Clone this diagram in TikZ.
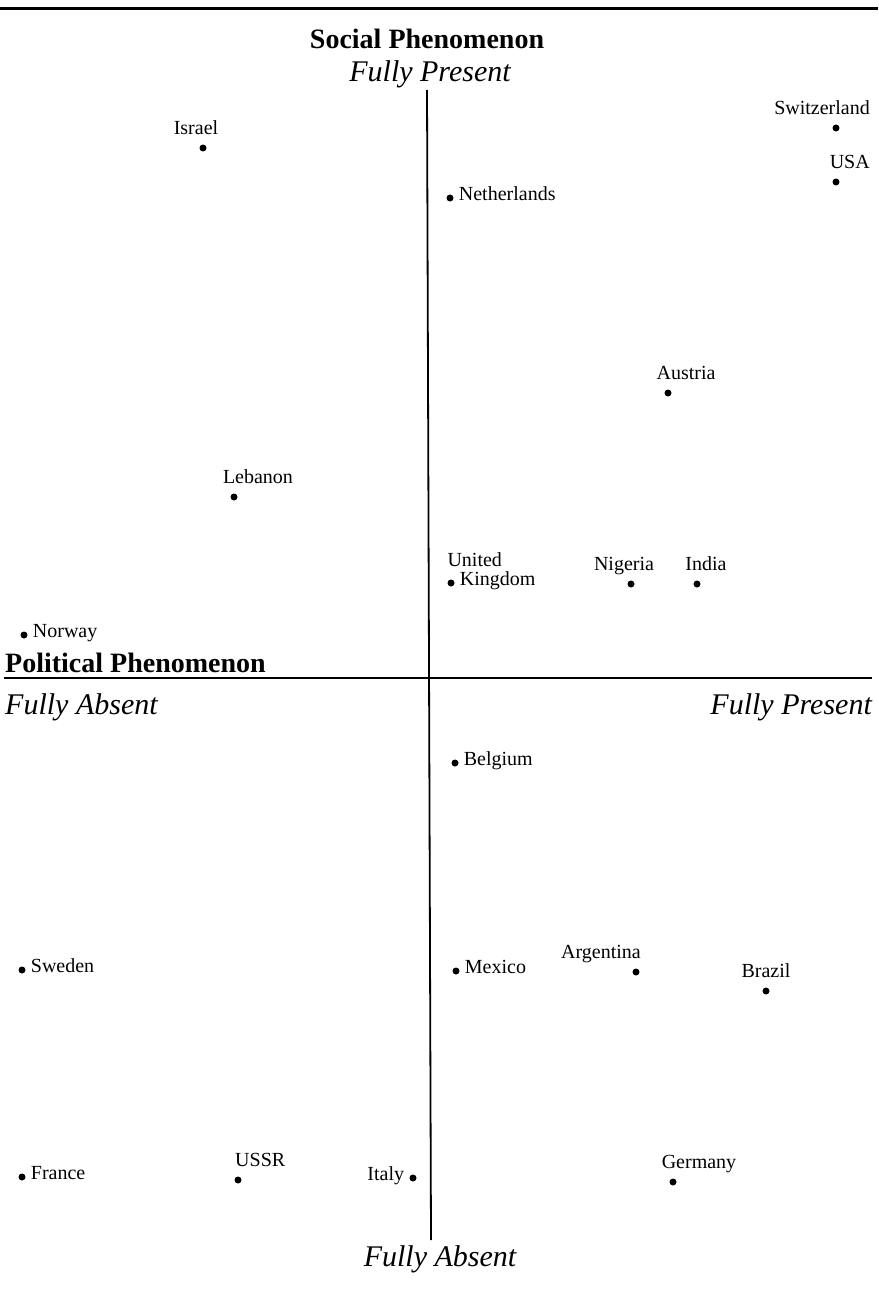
\documentclass[tikz,border=0pt]{standalone}
\usepackage{fontspec}
\setmainfont{Liberation Serif}
\usetikzlibrary{positioning}
\tikzset{
  % punkter
  pt/.style={circle,fill=black,inner sep=0pt,minimum size=7pt},
  lbl/.style={font=\fontsize{20}{23}\selectfont,inner sep=0pt},
  % axlar
  axis/.style={draw=black,line width=1.8pt},
  rulebar/.style={draw=black,line width=3pt},
  head/.style={font=\fontsize{28}{31}\selectfont\bfseries,inner sep=0pt},
  pole/.style={font=\fontsize{30}{34}\selectfont\itshape,inner sep=0pt},
}

\begin{document}
\begin{tikzpicture}[x=1pt,y=-1pt]
  \useasboundingbox (0,0) rectangle (878,1300);
  % linjer
  \coordinate (ruleL) at (0,9);
  \coordinate (ruleR) at (878,9);
  \coordinate (top) at (427,90);
  \coordinate (bot) at (431,1240);
  \coordinate (left) at (4,678);
  \coordinate (right) at (872,678);
  \draw[rulebar] (ruleL) -- (ruleR);
  \draw[axis] (top) -- (bot);
  \draw[axis] (left) -- (right);
  % rubriker
  \node[head,anchor=base] (social) at (427,49) {Social Phenomenon};
  \node[pole,anchor=base] (socPres) at (430,82) {Fully Present};
  \node[head,anchor=base west] (political) at (5,672) {Political Phenomenon};
  \node[pole,anchor=base west] (polAbs) at (5,714) {Fully Absent};
  \node[pole,anchor=base east] (polPres) at (872,714) {Fully Present};
  \node[pole,anchor=base] (socAbs) at (440,1266) {Fully Absent};
  % länder
  \node[pt] (israel) at (203,148) {};
  \node[lbl,above=10pt of israel,anchor=base,xshift=-7pt] (israelL) {Israel};
  \node[pt] (neth) at (450,198) {};
  \node[lbl,right=5pt of neth,anchor=mid west] (nethL) {Netherlands};
  \node[pt] (swiss) at (836,128) {};
  \node[lbl,above=10pt of swiss,anchor=base east,xshift=34pt] (swissL) {Switzerland};
  \node[pt] (usa) at (836,182) {};
  \node[lbl,above=10pt of usa,anchor=base east,xshift=34pt] (usaL) {USA};
  \node[pt] (austria) at (668,393) {};
  \node[lbl,above=10pt of austria,anchor=base,xshift=18pt] (austriaL) {Austria};
  \node[pt] (lebanon) at (234,497) {};
  \node[lbl,above=10pt of lebanon,anchor=base,xshift=24pt] (lebanonL) {Lebanon};
  \node[pt] (uk) at (451,583) {};
  \node[lbl,right=5pt of uk,anchor=mid west] (ukL) {Kingdom};
  \node[lbl,anchor=base west,yshift=19pt] (ukTop) at (uk.west |- ukL.base) {United};
  \node[pt] (nigeria) at (631,584) {};
  \node[lbl,above=10pt of nigeria,anchor=base,xshift=-7pt] (nigeriaL) {Nigeria};
  \node[pt] (india) at (697,584) {};
  \node[lbl,above=10pt of india,anchor=base,xshift=9pt] (indiaL) {India};
  \node[pt] (norway) at (24,635) {};
  \node[lbl,right=5pt of norway,anchor=mid west] (norwayL) {Norway};
  \node[pt] (belgium) at (455,763) {};
  \node[lbl,right=5pt of belgium,anchor=mid west] (belgiumL) {Belgium};
  \node[pt] (sweden) at (22,970) {};
  \node[lbl,right=5pt of sweden,anchor=mid west] (swedenL) {Sweden};
  \node[pt] (mexico) at (456,971) {};
  \node[lbl,right=5pt of mexico,anchor=mid west] (mexicoL) {Mexico};
  \node[pt] (argentina) at (636,972) {};
  \node[lbl,above=10pt of argentina,anchor=base east,xshift=5pt] (argentinaL) {Argentina};
  \node[pt] (brazil) at (766,991) {};
  \node[lbl,above=10pt of brazil,anchor=base] (brazilL) {Brazil};
  \node[pt] (france) at (22,1177) {};
  \node[lbl,right=5pt of france,anchor=mid west] (franceL) {France};
  \node[pt] (ussr) at (238,1180) {};
  \node[lbl,above=10pt of ussr,anchor=base west,xshift=-3pt] (ussrL) {USSR};
  \node[pt] (italy) at (413,1178) {};
  \node[lbl,left=5pt of italy,anchor=mid east] (italyL) {Italy};
  \node[pt] (germany) at (673,1182) {};
  \node[lbl,above=10pt of germany,anchor=base,xshift=26pt] (germanyL) {Germany};
\end{tikzpicture}
\end{document}
